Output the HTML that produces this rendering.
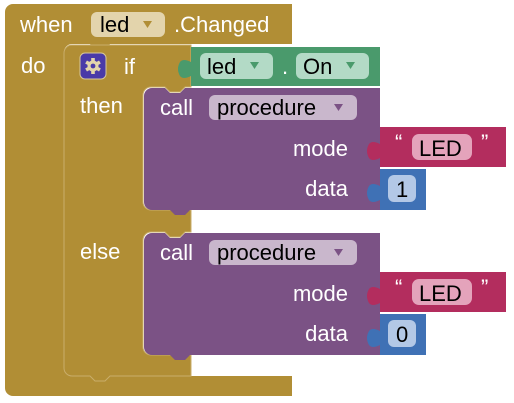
<!DOCTYPE html>
<html><head><meta charset="utf-8"><style>
html,body{margin:0;padding:0;background:#fff;}
svg{display:block}
text{font-family:"Liberation Sans",Arial,sans-serif;font-size:22px;}
</style></head><body>
<svg width="514" height="403" viewBox="0 0 514 403" xmlns="http://www.w3.org/2000/svg">
<!-- outer event block -->
<path d="M13,4 H292 V44 H110 l-5,5 h-10 l-5,-5 H72 a8,8 0 0 0 -8,8 V368 a8,8 0 0 0 8,8 H292 V396 H13 a8,8 0 0 1 -8,-8 V12 a8,8 0 0 1 8,-8 Z" fill="#b18e35"/>
<!-- if block -->
<path d="M72,45 H191 V87 H185 l-5,5 h-10 l-5,-5 H151 a8,8 0 0 0 -8,8 V202 a8,8 0 0 0 8,8 H191 V232 H185 l-5,5 h-10 l-5,-5 H151 a8,8 0 0 0 -8,8 V347 a8,8 0 0 0 8,8 H191 V376 H110 l-5,5 h-10 l-5,-5 H72 a8,8 0 0 1 -8,-8 V53 a8,8 0 0 1 8,-8 Z" fill="#b18e35" stroke="#c9ad6a" stroke-width="1"/>
<!-- green condition -->
<path d="M191,47 H380 V86 H191 V76 q-8,4 -11,0 q-4,-7 0,-14 q3,-4 11,0 Z" fill="#4a9a6c"/>
<rect x="200" y="53" width="73" height="26" rx="6" fill="#b3dac6"/>
<rect x="296" y="53" width="73" height="26" rx="6" fill="#b3dac6"/>
<text x="207" y="74" fill="#000">led</text>
<path d="M250,62 h9 l-4.5,7 Z" fill="#4a9a6c"/>
<text x="282" y="74" fill="#fff">.</text>
<text x="303" y="74" fill="#000">On</text>
<path d="M346,62 h9 l-4.5,7 Z" fill="#4a9a6c"/>
<!-- purple 1 -->
<path d="M152,88 H165 l5,5 h10 l5,-5 H380 V210 H190 l-5,5 h-10 l-5,-5 H152 a8,8 0 0 1 -8,-8 V96 a8,8 0 0 1 8,-8 Z" fill="#7b5285"/>
<!-- purple 2 -->
<path d="M152,233 H165 l5,5 h10 l5,-5 H380 V355 H190 l-5,5 h-10 l-5,-5 H152 a8,8 0 0 1 -8,-8 V241 a8,8 0 0 1 8,-8 Z" fill="#7b5285"/>
<g>
<rect x="209" y="95" width="148" height="25" rx="6" fill="#c9b7cc"/>
<text x="160" y="115" fill="#fff">call</text>
<text x="217" y="115" fill="#000">procedure</text>
<path d="M334,104 h9 l-4.5,7 Z" fill="#7b5285"/>
<text x="348" y="156" fill="#fff" text-anchor="end">mode</text>
<text x="348" y="196" fill="#fff" text-anchor="end">data</text>
</g>
<g transform="translate(0,145)">
<rect x="209" y="95" width="148" height="25" rx="6" fill="#c9b7cc"/>
<text x="160" y="115" fill="#fff">call</text>
<text x="217" y="115" fill="#000">procedure</text>
<path d="M334,104 h9 l-4.5,7 Z" fill="#7b5285"/>
<text x="348" y="156" fill="#fff" text-anchor="end">mode</text>
<text x="348" y="196" fill="#fff" text-anchor="end">data</text>
</g>
<!-- value blocks -->
<g>
<path d="M380,127 H506 V167 H380 V158 q-8,4 -11,0 q-4,-7 0,-14 q3,-4 11,0 Z" fill="#b32d5e"/>
<rect x="412" y="134" width="60" height="26" rx="7" fill="#e4a3bb"/>
<text x="395" y="150" font-size="13" fill="#fff">“</text>
<text x="481" y="150" font-size="13" fill="#fff">”</text>
<text x="419" y="156" fill="#000">LED</text>
<path d="M380,169 H426 V210 H380 V200 q-8,4 -11,0 q-4,-7 0,-14 q3,-4 11,0 Z" fill="#3f71b5"/>
<rect x="388" y="175" width="28" height="27" rx="6" fill="#b3c8e6"/>
<text x="396" y="197" fill="#000">1</text>
</g>
<g transform="translate(0,145)">
<path d="M380,127 H506 V167 H380 V158 q-8,4 -11,0 q-4,-7 0,-14 q3,-4 11,0 Z" fill="#b32d5e"/>
<rect x="412" y="134" width="60" height="26" rx="7" fill="#e4a3bb"/>
<text x="395" y="150" font-size="13" fill="#fff">“</text>
<text x="481" y="150" font-size="13" fill="#fff">”</text>
<text x="419" y="156" fill="#000">LED</text>
<path d="M380,169 H426 V210 H380 V200 q-8,4 -11,0 q-4,-7 0,-14 q3,-4 11,0 Z" fill="#3f71b5"/>
<rect x="388" y="175" width="28" height="27" rx="6" fill="#b3c8e6"/>
<text x="396" y="197" fill="#000">0</text>
</g>
<!-- event header -->
<text x="20" y="32" fill="#fff">when</text>
<rect x="91" y="12" width="74" height="25" rx="6" fill="#e3d4ac"/>
<text x="100" y="32" fill="#000">led</text>
<path d="M143,21 h9 l-4.5,7 Z" fill="#b18e35"/>
<text x="174" y="32" fill="#fff">.Changed</text>
<text x="21" y="73" fill="#fff">do</text>
<!-- gear -->
<rect x="80" y="53" width="26" height="26" rx="5" fill="#4a3aa8" stroke="#d8c89a" stroke-width="1"/>
<g transform="translate(93,66)" fill="#e3d4ac">
<circle r="5.5"/>
<g><rect x="-1.8" y="-8" width="3.6" height="16"/><rect x="-1.8" y="-8" width="3.6" height="16" transform="rotate(60)"/><rect x="-1.8" y="-8" width="3.6" height="16" transform="rotate(120)"/></g>
<circle r="2.4" fill="#4a3aa8"/>
</g>
<text x="124" y="74" fill="#fff">if</text>
<text x="80" y="113" fill="#fff">then</text>
<text x="80" y="259" fill="#fff">else</text>
</svg>
</body></html>
